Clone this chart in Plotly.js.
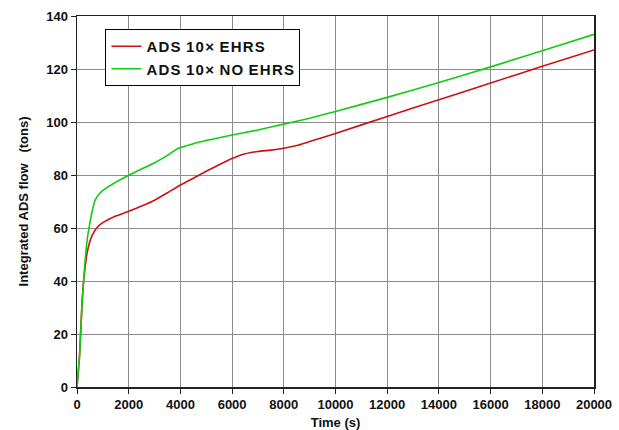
<!DOCTYPE html>
<html>
<head>
<meta charset="utf-8">
<script src="https://cdn.plot.ly/plotly-3.0.1.min.js"></script>
<style>html,body{margin:0;padding:0;background:#fff;}#chart{width:619px;height:430px;}</style>
</head>
<body>
<div id="chart"></div>
<script>
var ehrsTime = [0, 100, 200, 300, 400, 500, 600, 800, 1000, 1500, 2000, 2500, 3000, 3500, 4000, 4500, 5000, 5500, 6000, 6500, 7000, 7500, 8000, 8500, 9000, 10000, 12000, 14000, 16000, 18000, 20000];
var ehrsFlow = [0, 12, 33, 44, 51, 55, 57.5, 60.5, 62, 64.5, 66.3, 68.3, 70.5, 73.3, 76.2, 78.8, 81.4, 83.9, 86.2, 88.0, 88.9, 89.4, 90.1, 91.1, 92.6, 95.7, 102.1, 108.4, 114.7, 121, 127.2];
var noEhrsTime = [0, 100, 200, 300, 400, 500, 600, 700, 900, 1200, 2000, 3000, 3500, 3900, 4500, 5000, 6000, 7000, 8000, 9000, 10000, 12000, 14000, 16000, 18000, 20000];
var noEhrsFlow = [0, 12, 32, 46, 56, 62, 67, 70.5, 73.3, 75.5, 79.9, 84.6, 87.4, 90, 91.8, 93, 95.1, 97, 99.2, 101.4, 104, 109.3, 114.9, 120.8, 126.9, 133.1];
var seriesNames = ["A\u200aD\u200aS\u200a 1\u200a0\u200a×\u200a E\u200aH\u200aR\u200aS", "A\u200aD\u200aS\u200a 1\u200a0\u200a×\u200a N\u200aO\u200a E\u200aH\u200aR\u200aS"];

var fontFam = "'Liberation Sans Narrow', 'Arial Narrow', 'Liberation Sans', Arial, sans-serif";
var traces = [
  {x: ehrsTime, y: ehrsFlow, name: seriesNames[0], mode: 'lines', line: {color: '#cc1111', width: 1.6, shape: 'spline', smoothing: 0.4}},
  {x: noEhrsTime, y: noEhrsFlow, name: seriesNames[1], mode: 'lines', line: {color: '#11cc11', width: 1.6, shape: 'spline', smoothing: 0.4}}
];
var axisCommon = {
  showgrid: true, gridcolor: '#8c8c8c', gridwidth: 1,
  showline: true, linecolor: '#222', linewidth: 1.5, mirror: true,
  ticks: 'outside', ticklen: 5, tickcolor: '#222', tickwidth: 1,
  zeroline: false,
  tickfont: {family: fontFam, size: 13, color: '#111', weight: 'bold'}
};
var layout = {
  width: 619, height: 430,
  margin: {l: 77, r: 25, t: 16, b: 43},
  paper_bgcolor: '#fff', plot_bgcolor: '#fff',
  showlegend: true,
  legend: {x: 0.055, y: 0.965, xanchor: 'left', yanchor: 'top', bgcolor: '#fff', bordercolor: '#000', borderwidth: 1,
    itemwidth: 30,
    font: {family: fontFam, size: 15, color: '#111', weight: 'bold'}, tracegroupgap: 0},
  xaxis: Object.assign({}, axisCommon, {range: [0, 20000], dtick: 2000, tick0: 0, tickformat: 'd',
    title: {text: 'Time (s)', font: {family: fontFam, size: 13, color: '#111', weight: 'bold'}, standoff: 8}}),
  yaxis: Object.assign({}, axisCommon, {range: [0, 140], dtick: 20, tick0: 0,
    title: {text: 'Integrated ADS flow   (tons)', font: {family: fontFam, size: 13, color: '#111', weight: 'bold'}, standoff: 14}})
};
Plotly.newPlot('chart', traces, layout, {displayModeBar: false, staticPlot: true});
</script>
</body>
</html>
